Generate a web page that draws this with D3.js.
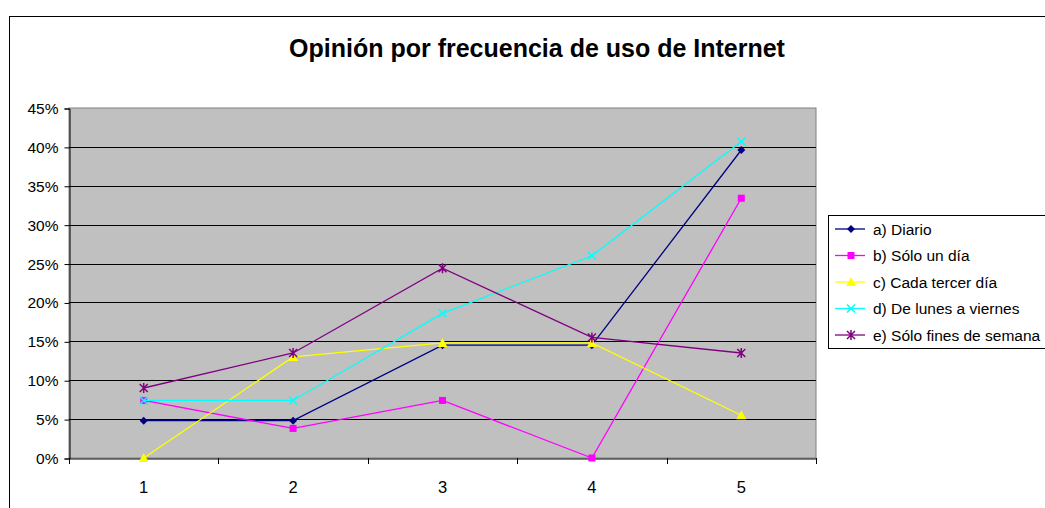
<!DOCTYPE html>
<html><head><meta charset="utf-8">
<script src="https://cdn.jsdelivr.net/npm/d3@7"></script>
<style>body{margin:0;background:#fff;}svg{display:block;font-family:"Liberation Sans",Arial,sans-serif;}</style>
</head><body>
<svg id="c" width="1045" height="508"></svg>
<script>
const categories = ["1","2","3","4","5"];
const seriesNames = ["a) Diario","b) Sólo un día","c) Cada tercer día","d) De lunes a viernes","e) Sólo fines de semana"];
const diario = [0.048,0.048,0.145,0.145,0.396];
const soloUnDia = [0.074,0.038,0.074,0.0,0.334];
const cadaTercerDia = [0.0,0.13,0.148,0.148,0.055];
const lunesViernes = [0.074,0.074,0.186,0.26,0.407];
const finesSemana = [0.09,0.135,0.244,0.155,0.135];
const yTicks = [0,0.05,0.10,0.15,0.20,0.25,0.30,0.35,0.40,0.45];
const colors = ["#000080","#FF00FF","#FFFF00","#00FFFF","#800080"];
const markers = ["diamond","square","triangle","x","star"];
const seriesValues = [diario,soloUnDia,cadaTercerDia,lunesViernes,finesSemana];

const svg = d3.select("#c");
// outer chart border
svg.append("rect").attr("x",9.5).attr("y",16.5).attr("width",1100).attr("height",600)
  .attr("fill","#fff").attr("stroke","#000").attr("stroke-width",1);

svg.append("text").attr("x",537).attr("y",57).attr("text-anchor","middle")
  .attr("font-size",25).attr("font-weight","bold").text("Opinión por frecuencia de uso de Internet");

const L=69,R=816,T=108,B=458;
const x = d3.scaleBand().domain(categories).range([L,R]);
const y = d3.scaleLinear().domain([0,0.45]).range([B,T]);

svg.append("rect").attr("x",L).attr("y",T).attr("width",R-L).attr("height",B-T)
  .attr("fill","#C0C0C0").attr("stroke","#808080").attr("stroke-width",1);

svg.append("g").selectAll("line").data(yTicks.filter(d=>d>0&&d<0.45)).join("line")
  .attr("x1",L).attr("x2",R).attr("y1",d=>Math.round(y(d))+0.5).attr("y2",d=>Math.round(y(d))+0.5)
  .attr("stroke","#000").attr("stroke-width",1);

const yAxis = svg.append("g").attr("transform",`translate(${L+0.5},0.5)`)
  .call(d3.axisLeft(y).tickValues(yTicks).tickFormat(d3.format(".0%")).tickSize(5).tickPadding(6));
yAxis.select(".domain").attr("stroke","#000");
yAxis.selectAll("text").attr("font-size",15.5).attr("fill","#000").attr("font-family","Liberation Sans, Arial, sans-serif");

const xAxis = svg.append("g").attr("transform",`translate(0,${B+0.5})`)
  .call(d3.axisBottom(x).tickSize(0).tickPadding(23));
xAxis.select(".domain").attr("stroke","#000");
xAxis.selectAll("text").attr("font-size",16.5).attr("fill","#000").attr("font-family","Liberation Sans, Arial, sans-serif");
const bounds = categories.map(c=>x(c)).concat([R]);
svg.append("g").selectAll("line").data(bounds).join("line")
  .attr("x1",d=>Math.round(d)+0.5).attr("x2",d=>Math.round(d)+0.5).attr("y1",B).attr("y2",B+6).attr("stroke","#000");

const cx = c => x(c)+x.bandwidth()/2;

function drawMarker(g,type,px,py,color){
  if(type==="diamond"){
    g.append("path").attr("d",`M${px},${py-4}L${px+4},${py}L${px},${py+4}L${px-4},${py}Z`).attr("fill",color);
  } else if(type==="square"){
    g.append("rect").attr("x",px-3.5).attr("y",py-3.5).attr("width",7).attr("height",7).attr("fill",color);
  } else if(type==="triangle"){
    g.append("path").attr("d",`M${px},${py-5}L${px+5},${py+4}L${px-5},${py+4}Z`).attr("fill",color);
  } else if(type==="x"){
    g.append("path").attr("d",`M${px-4},${py-4}L${px+4},${py+4}M${px-4},${py+4}L${px+4},${py-4}`).attr("stroke",color).attr("stroke-width",1.5);
  } else if(type==="star"){
    g.append("path").attr("d",`M${px-4},${py-4}L${px+4},${py+4}M${px-4},${py+4}L${px+4},${py-4}M${px},${py-5}L${px},${py+5}`).attr("stroke",color).attr("stroke-width",1.5);
  }
}

const line = d3.line().x((d,i)=>cx(categories[i])).y(d=>y(d));
seriesValues.forEach((vals,si)=>{
  const g = svg.append("g");
  g.append("path").attr("d",line(vals)).attr("fill","none").attr("stroke",colors[si]).attr("stroke-width",1.3);
  vals.forEach((v,i)=>drawMarker(g,markers[si],cx(categories[i]),y(v),colors[si]));
});

// legend
const lg = svg.append("g");
lg.append("rect").attr("x",828.5).attr("y",215.5).attr("width",300).attr("height",133)
  .attr("fill","#fff").attr("stroke","#000");
seriesNames.forEach((n,i)=>{
  const ly = 229 + i*26.5;
  lg.append("line").attr("x1",835).attr("x2",865).attr("y1",ly).attr("y2",ly).attr("stroke",colors[i]).attr("stroke-width",1.3);
  drawMarker(lg,markers[i],851,ly,colors[i]);
  lg.append("text").attr("x",873).attr("y",ly+5.5).attr("font-size",15.5).text(n);
});
</script>
</body></html>
